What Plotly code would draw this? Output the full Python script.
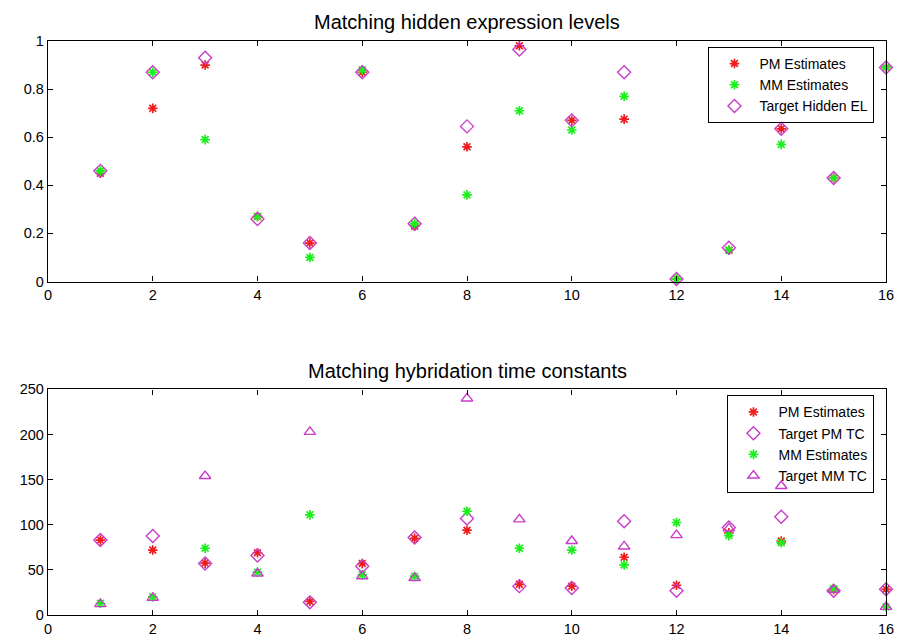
import plotly.graph_objects as go

idx = list(range(1, 17))

# Top panel: hidden expression levels
el_pm = [0.45, 0.72, 0.90, 0.27, 0.16, 0.87, 0.23, 0.56, 0.98, 0.67, 0.675, 0.01, 0.13, 0.635, 0.43, 0.89]
el_mm = [0.46, 0.87, 0.59, 0.27, 0.10, 0.88, 0.24, 0.36, 0.71, 0.63, 0.77, 0.01, 0.13, 0.57, 0.43, 0.89]
el_target = [0.46, 0.87, 0.93, 0.26, 0.16, 0.87, 0.24, 0.645, 0.965, 0.67, 0.87, 0.01, 0.14, 0.635, 0.43, 0.89]

# Bottom panel: hybridation time constants
tc_pm = [83, 72, 57.5, 69, 15, 57, 85, 94, 34, 32, 64, 33, 91, 82, 28, 28.5]
tc_pm_target = [83, 87.5, 57, 66, 14, 54, 86, 107, 32, 30, 104, 27, 97, 109, 27, 28.5]
tc_mm = [13, 20, 74, 47.5, 111, 44.5, 43, 115, 74, 72, 55.5, 102.5, 88, 80, 29, 9]
tc_mm_target = [12, 19, 154, 46, 203, 43, 41, 240, 106, 82, 76, 88.5, 96, 143, 28, 9]

RED = "#f01c1c"
GREEN = "#19f019"
MAG = "#c83cc8"
FONT = "Liberation Sans, Arial, sans-serif"

fig = go.Figure()

def star(x, y, color, name, xa, ya, legend):
    return go.Scatter(x=x, y=y, mode="markers", name=name, xaxis=xa, yaxis=ya, legend=legend,
                      cliponaxis=False,
                      marker=dict(symbol="asterisk", size=8, color=color,
                                  line=dict(color=color, width=1.7)))

def openm(x, y, sym, name, xa, ya, legend):
    return go.Scatter(x=x, y=y, mode="markers", name=name, xaxis=xa, yaxis=ya, legend=legend,
                      cliponaxis=False,
                      marker=dict(symbol=sym, size=10, color=MAG,
                                  line=dict(color=MAG, width=1.4)))

fig.add_trace(star(idx, el_pm, RED, "PM Estimates", "x", "y", "legend"))
fig.add_trace(star(idx, el_mm, GREEN, "MM Estimates", "x", "y", "legend"))
fig.add_trace(openm(idx, el_target, "diamond-open", "Target Hidden EL", "x", "y", "legend"))

fig.add_trace(star(idx, tc_pm, RED, "PM Estimates", "x2", "y2", "legend2"))
fig.add_trace(openm(idx, tc_pm_target, "diamond-open", "Target PM TC", "x2", "y2", "legend2"))
fig.add_trace(star(idx, tc_mm, GREEN, "MM Estimates", "x2", "y2", "legend2"))
fig.add_trace(openm(idx, tc_mm_target, "triangle-up-open", "Target MM TC", "x2", "y2", "legend2"))

axis_common = dict(showline=True, linecolor="black", linewidth=1.3, mirror="ticks",
                   ticks="inside", ticklen=5, tickcolor="black", tickwidth=1.3, showgrid=False,
                   zeroline=False, ticklabeloverflow="allow",
                   tickfont=dict(family=FONT, size=14.5, color="black"))

legend_common = dict(xanchor="right", yanchor="top", bordercolor="black", borderwidth=1.2,
                     bgcolor="rgba(255,255,255,0)", font=dict(family=FONT, size=14, color="black"),
                     tracegroupgap=0, itemwidth=40)

fig.update_layout(
    width=902, height=641,
    margin=dict(l=31, r=24, t=33, b=17),
    paper_bgcolor="white", plot_bgcolor="white",
    font=dict(family=FONT, color="black"),
    showlegend=True,
    xaxis=dict(domain=[0, 1], range=[0, 16], dtick=2, anchor="y", **axis_common),
    yaxis=dict(domain=[0.581, 1], range=[0, 1], dtick=0.2, anchor="x", **axis_common),
    xaxis2=dict(domain=[0, 1], range=[0, 16], dtick=2, anchor="y2", **axis_common),
    yaxis2=dict(domain=[0, 0.393], range=[0, 250], dtick=50, anchor="x2", **axis_common),
    legend=dict(x=0.986, y=0.99, **legend_common),
    legend2=dict(x=0.986, y=0.383, **legend_common),
    annotations=[
        dict(text="Matching hidden expression levels", x=0.5, y=1, xref="paper", yref="paper",
             xanchor="center", yanchor="middle", yshift=19, showarrow=False,
             font=dict(family=FONT, size=20, color="black")),
        dict(text="Matching hybridation time constants", x=0.5, y=0.393, xref="paper", yref="paper",
             xanchor="center", yanchor="middle", yshift=18, showarrow=False,
             font=dict(family=FONT, size=20, color="black")),
    ],
)

fig.write_html("out.html")
